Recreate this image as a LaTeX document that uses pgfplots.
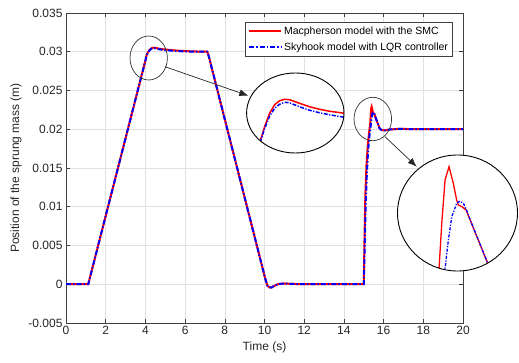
\documentclass[border=0pt]{standalone}
\usepackage{fontspec}
\setmainfont{Liberation Sans}
\usepackage{pgfplots}
\usepackage{pgfplotstable}
\pgfplotsset{compat=1.18}
\usetikzlibrary{arrows.meta}

\pgfplotstableread{
t v
0 0
1.12 0
4.00 0.02886
4.05 0.02945
4.084 0.02969
4.141 0.02997
4.208 0.03024
4.275 0.03041
4.342 0.03049
4.409 0.03052
4.476 0.03051
4.610 0.03044
4.745 0.03037
4.879 0.03032
5.013 0.03028
5.169 0.03025
5.6 0.03014
6.3 0.03005
6.9 0.03001
7.12 0.0300
7.20 0.02935
10.05 0.0006
10.15 -0.0002
10.25 -0.0004
10.35 -0.00042
10.5 -0.0002
10.7 0.00003
11.0 0.0001
11.4 0.00004
12.0 0
15.0 0
15.04 0.006
15.08 0.0115
15.14 0.0155
15.20 0.0178
15.27 0.0196
15.327 0.0208
15.347 0.02174
15.371 0.02263
15.40 0.0229
15.431 0.02256
15.456 0.02221
15.468 0.02211
15.493 0.02208
15.524 0.02201
15.687 0.02088
15.80 0.02010
15.90 0.01990
16.05 0.01985
16.3 0.01996
16.8 0.02006
17.5 0.0200
20 0.0200
}\redtab

\pgfplotstableread{
t v
0 0
1.12 0
4.00 0.02886
4.05 0.02944
4.084 0.02967
4.141 0.02993
4.208 0.03018
4.275 0.03034
4.342 0.03042
4.409 0.03046
4.476 0.03045
4.610 0.03037
4.745 0.03030
4.879 0.03025
5.013 0.03021
5.169 0.03017
5.6 0.03008
6.3 0.03002
6.9 0.03000
7.12 0.0300
7.20 0.02935
10.05 0.0006
10.15 -0.0002
10.25 -0.0004
10.35 -0.00042
10.5 -0.0002
10.7 0.00003
11.0 0.0001
11.4 0.00004
12.0 0
15.0 0
15.05 0.005
15.10 0.0105
15.16 0.0145
15.22 0.0172
15.30 0.0195
15.371 0.02081
15.395 0.02139
15.420 0.02187
15.456 0.02215
15.480 0.02219
15.504 0.02215
15.529 0.02200
15.55 0.02184
15.687 0.02088
15.80 0.02010
15.90 0.01990
16.05 0.01985
16.3 0.01996
16.8 0.02006
17.5 0.0200
20 0.0200
}\bluetab

\definecolor{mred}{RGB}{255,0,0}
\definecolor{mblue}{RGB}{0,0,255}

\begin{document}
\begin{tikzpicture}
\begin{axis}[
  at={(66pt,-13pt)}, anchor=north west,
  scale only axis, width=397pt, height=310pt,
  xmin=0, xmax=20, ymin=-0.005, ymax=0.035,
  xtick={0,2,...,20},
  ytick={-0.005,0,0.005,0.01,0.015,0.02,0.025,0.03,0.035},
  scaled y ticks=false,
  yticklabel style={/pgf/number format/fixed, /pgf/number format/precision=3},
  /pgf/number format/assume math mode=true,
  grid=major, major grid style={black!12, line width=0.5pt},
  tick align=inside, major tick length=4pt,
  axis line style={black!75, line width=0.6pt},
  tick style={black!75, line width=0.6pt},
  ticklabel style={font=\fontsize{12}{14}\selectfont, text=black!85},
  label style={font=\fontsize{12}{14}\selectfont, text=black!85},
  xlabel={Time (s)}, ylabel={Position of the sprung mass (m)},
  legend style={at={(1,1)}, xshift=-10.3pt, yshift=-8.7pt, anchor=north east,
    font=\fontsize{10.5}{12}\selectfont, draw=black!75, fill=white,
    row sep=3pt, inner sep=2.5pt},
  legend cell align=left,
  legend image code/.code={\draw[#1] plot coordinates {(0pt,0pt) (16pt,0pt) (32pt,0pt)};},
]
\addplot[mred, line width=2pt] table[x=t,y=v] {\redtab};
\addlegendentry{Macpherson model with the SMC}
\addplot[mblue, line width=2pt, dash pattern=on 5pt off 2pt on 1.5pt off 2pt] table[x=t,y=v] {\bluetab};
\addlegendentry{Skyhook model with LQR controller}
\end{axis}

% inset 1
\fill[white] (295.3pt,-113pt) ellipse [x radius=48.7pt, y radius=40pt];
\begin{scope}
\clip (295.3pt,-113pt) ellipse [x radius=48.7pt, y radius=40pt];
\begin{axis}[at={(246.6pt,-73pt)}, anchor=north west, scale only axis,
  width=97.4pt, height=80pt, hide axis,
  xmin=3.9, xmax=5.206, ymin=0.029446, ymax=0.031046]
\addplot[mred, line width=1.5pt] table[x=t,y=v] {\redtab};
\addplot[mblue, line width=1.5pt, dash pattern=on 4pt off 1.5pt on 1.2pt off 1.5pt] table[x=t,y=v] {\bluetab};
\end{axis}
\end{scope}
\draw[black, line width=0.9pt] (295.3pt,-113pt) ellipse [x radius=48.7pt, y radius=40pt];

% inset 2
\fill[white] (457.5pt,-213pt) ellipse [x radius=60pt, y radius=58pt];
\begin{scope}
\clip (457.5pt,-213pt) ellipse [x radius=60pt, y radius=58pt];
\begin{axis}[at={(397.5pt,-155pt)}, anchor=north west, scale only axis,
  width=120pt, height=116pt, hide axis,
  xmin=15.024, xmax=15.90, ymin=0.020754, ymax=0.023141]
\addplot[mred, line width=1.3pt] table[x=t,y=v] {\redtab};
\addplot[mblue, line width=1.3pt, dash pattern=on 3pt off 1.5pt on 1.2pt off 1.5pt] table[x=t,y=v] {\bluetab};
\end{axis}
\end{scope}
\draw[black, line width=0.9pt] (457.5pt,-213pt) ellipse [x radius=60pt, y radius=58pt];

% small ellipses
\draw[black!80, line width=0.7pt] (148.7pt,-58pt) ellipse [x radius=18.7pt, y radius=22pt];
\draw[black!80, line width=0.7pt] (372.8pt,-119pt) ellipse [x radius=18.8pt, y radius=21.7pt];

% arrows
\draw[black!85, line width=0.7pt, -{Latex[length=9pt,width=7pt]}] (165pt,-66.7pt) -- (248.3pt,-95.7pt);
\draw[black!85, line width=0.7pt, -{Latex[length=9pt,width=7pt]}] (385pt,-136.7pt) -- (416.7pt,-166.7pt);

\pgfresetboundingbox
\path (0pt,0pt) rectangle (519pt,-363pt);
\end{tikzpicture}
\end{document}
